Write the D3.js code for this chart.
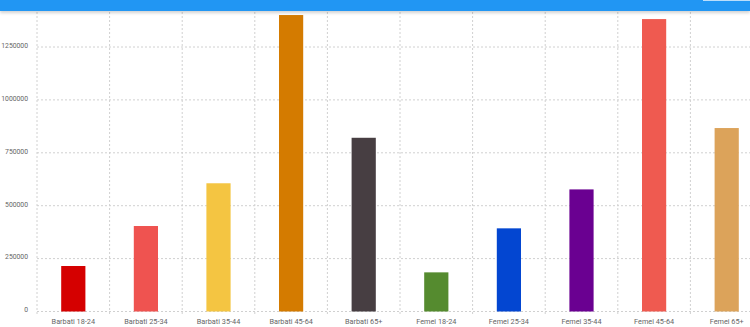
<!DOCTYPE html>
<html lang="ro">
<head>
<meta charset="utf-8">
<style>
  body { margin: 0; background: #fff; overflow: hidden; }
  .header {
    position: absolute; left: 0; top: 0; width: 750px; height: 11px;
    background: #2196f3; box-shadow: 0 2px 3px rgba(0,0,0,0.18);
  }
  .header .tab {
    position: absolute; right: 0; top: 0; width: 47px; height: 1px;
    background: #bbdefb;
  }
  svg { position: absolute; left: 0; top: 0; }
  text { font-family: Roboto, "Liberation Sans", sans-serif; fill: #666; }
  .grid line { stroke: #d0d0d0; stroke-dasharray: 2,2; }
</style>
</head>
<body>
<script src="https://cdn.jsdelivr.net/npm/d3@7"></script>
<script>
// categories and values
var categories = ["Barbati 18-24", "Barbati 25-34", "Barbati 35-44", "Barbati 45-64", "Barbati 65+",
                  "Femei 18-24", "Femei 25-34", "Femei 35-44", "Femei 45-64", "Femei 65+"];
var values = [215000, 404000, 606000, 1401000, 821000, 185000, 393000, 577000, 1382000, 867000];
var colors = ["#d50000", "#ef5350", "#f4c542", "#d47b00", "#473e42",
              "#558b2f", "#0346d1", "#6a0091", "#ef5a50", "#dca35a"];
var yTicks = [0, 250000, 500000, 750000, 1000000, 1250000];

var width = 750, height = 327;
var plotLeft = 37, plotRight = 763, plotBottom = 311.5, plotTop = -5.9;

var svg = d3.select("body").append("svg")
  .attr("width", width)
  .attr("height", height);

var x = d3.scaleBand().domain(categories).range([plotLeft, plotRight]).padding(0);
var y = d3.scaleLinear().domain([0, 1500000]).range([plotBottom, plotTop]);

// horizontal grid
svg.append("g").attr("class", "grid")
  .selectAll("line").data(yTicks).enter().append("line")
  .attr("x1", plotLeft).attr("x2", plotRight)
  .attr("y1", function(d) { return y(d); })
  .attr("y2", function(d) { return y(d); });

// vertical grid
var vx = categories.map(function(c) { return x(c); }).concat([plotRight]);
svg.append("g").attr("class", "grid")
  .selectAll("line").data(vx).enter().append("line")
  .attr("x1", function(d) { return d; }).attr("x2", function(d) { return d; })
  .attr("y1", 0).attr("y2", plotBottom + 3);

// bars
var bw = x.bandwidth() / 3;
svg.selectAll(".bar").data(values).enter().append("rect")
  .attr("class", "bar")
  .attr("x", function(d, i) { return x(categories[i]) + x.bandwidth() / 2 - bw / 2; })
  .attr("width", bw)
  .attr("y", function(d) { return y(d); })
  .attr("height", function(d) { return plotBottom - y(d); })
  .attr("fill", function(d, i) { return colors[i]; });

// y axis labels
svg.append("g")
  .attr("transform", "translate(" + (plotLeft - 9) + ",0)")
  .call(d3.axisLeft(y).tickValues(yTicks).tickSize(0).tickPadding(0).tickFormat(d3.format("d")))
  .call(function(g) { g.select(".domain").remove(); })
  .call(function(g) {
    g.selectAll("text").attr("dy", "0.05em").style("font-size", "6.8px").style("fill", "#666");
  });

// x axis labels
svg.append("g")
  .attr("transform", "translate(0," + (plotBottom + 6) + ")")
  .call(d3.axisBottom(x).tickSize(0).tickPadding(0))
  .call(function(g) { g.select(".domain").remove(); })
  .call(function(g) {
    g.selectAll("text").attr("dy", "0.9em").style("font-size", "7.3px").style("fill", "#666");
  });
</script>
<div class="header"><div class="tab"></div></div>
</body>
</html>
